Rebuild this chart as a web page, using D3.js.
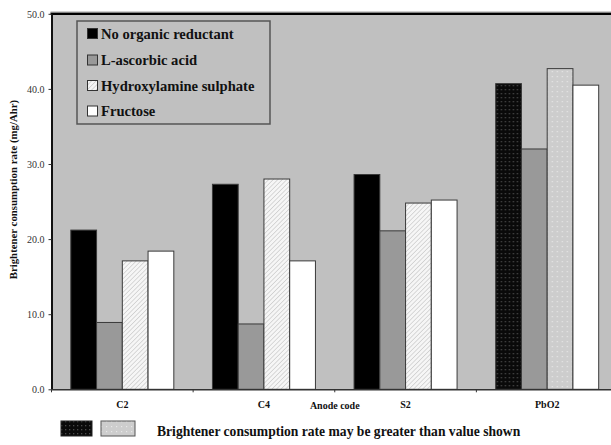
<!DOCTYPE html>
<html><head><meta charset="utf-8">
<script src="https://cdn.jsdelivr.net/npm/d3@7"></script>
<style>
html,body{margin:0;padding:0;background:#fff;}
svg{display:block;}
text{font-family:"Liberation Serif","Times New Roman",serif;}
</style></head>
<body>
<svg id="chart" width="611" height="445"></svg>
<script>
// ---- data ----
const categories = ["C2", "C4", "S2", "PbO2"];
const seriesNames = ["No organic reductant", "L-ascorbic acid", "Hydroxylamine sulphate", "Fructose"];
const noOrganic     = [21.2, 27.3, 28.6, 40.7];
const ascorbic      = [8.9, 8.7, 21.1, 32.0];
const hydroxylamine = [17.1, 28.0, 24.8, 42.7];
const fructose      = [18.4, 17.1, 25.2, 40.5];
// bars whose true value may be greater than shown
const greaterFlags = [
  [false, false, false, false],
  [false, false, false, false],
  [false, false, false, false],
  [true, false, true, false]
];
const yTicks = [0, 10, 20, 30, 40, 50];
const xTitle = "Anode code";
const yTitle = "Brightener consumption rate (mg/Ahr)";
const noteText = "Brightener consumption rate may be greater than value shown";

const seriesValues = [noOrganic, ascorbic, hydroxylamine, fructose];

(function () {
const svg = d3.select("#chart");
const mLeft = 51.5, mRight = 618, mTop = 13.8, mBottom = 389.3;

// patterns
const defs = svg.append("defs");
const hatch = defs.append("pattern").attr("id","hatch").attr("patternUnits","userSpaceOnUse")
  .attr("width",3.2).attr("height",3.2).attr("patternTransform","rotate(45)");
hatch.append("rect").attr("width",3.2).attr("height",3.2).attr("fill","#f6f6f6");
hatch.append("line").attr("x1",0).attr("y1",0).attr("x2",0).attr("y2",3.2)
  .attr("stroke","#c4c4c4").attr("stroke-width",1.2);

const dotBlack = defs.append("pattern").attr("id","dotBlack").attr("patternUnits","userSpaceOnUse")
  .attr("width",4).attr("height",4);
dotBlack.append("rect").attr("width",4).attr("height",4).attr("fill","#0a0a0a");
dotBlack.append("rect").attr("x",1).attr("y",1).attr("width",1.3).attr("height",1.3).attr("fill","#4a4a4a");

const dotGray = defs.append("pattern").attr("id","dotGray").attr("patternUnits","userSpaceOnUse")
  .attr("width",5).attr("height",5);
dotGray.append("rect").attr("width",5).attr("height",5).attr("fill","#cdcdcd");
dotGray.append("rect").attr("x",1).attr("y",1).attr("width",1.2).attr("height",1.2).attr("fill","#e8e8e8");

const fills = ["#000000", "#999999", "url(#hatch)", "#ffffff"];
const flagFills = ["url(#dotBlack)", "#999999", "url(#dotGray)", "#ffffff"];

// scales
const step = (mRight - mLeft) / categories.length;
const pin = 1 - 103 / step;
const x0 = d3.scaleBand().domain(categories).range([mLeft, mRight])
  .paddingInner(pin).paddingOuter(pin / 2);
const x1 = d3.scaleBand().domain(d3.range(seriesNames.length)).range([0, x0.bandwidth()]);
const y = d3.scaleLinear().domain([0, 50]).range([mBottom, mTop]);

// plot background
svg.append("rect").attr("x", mLeft).attr("y", y(50)).attr("width", mRight - mLeft)
  .attr("height", y(0) - y(50)).attr("fill", "#c0c0c0");

// bars
const groups = svg.append("g").selectAll("g").data(categories).join("g")
  .attr("transform", d => `translate(${x0(d)},0)`);
groups.selectAll("rect").data((c, ci) => seriesValues.map((vals, si) => ({ci, si, v: vals[ci]})))
  .join("rect")
  .attr("x", d => x1(d.si))
  .attr("y", d => y(d.v))
  .attr("width", x1.bandwidth())
  .attr("height", d => y(0) - y(d.v))
  .attr("fill", d => greaterFlags[d.ci][d.si] ? flagFills[d.si] : fills[d.si])
  .attr("stroke", "#3a3a3a").attr("stroke-width", 1);

// top border
svg.append("line").attr("x1", mLeft - 1).attr("x2", 611).attr("y1", y(50)).attr("y2", y(50))
  .attr("stroke", "#000").attr("stroke-width", 2.5);
svg.append("line").attr("x1", mLeft - 1).attr("x2", 611).attr("y1", y(50) - 1.8).attr("y2", y(50) - 1.8)
  .attr("stroke", "#888").attr("stroke-width", 0.8);

// y axis
const yAxis = svg.append("g").attr("transform", `translate(${mLeft},0)`)
  .call(d3.axisLeft(y).tickValues(yTicks).tickFormat(d3.format(".1f")).tickSize(3).tickSizeOuter(0));
yAxis.select(".domain").attr("stroke", "#111").attr("stroke-width", 2);
yAxis.selectAll(".tick line").attr("stroke", "#333");
yAxis.selectAll(".tick text").attr("font-size", 10).attr("fill", "#333")
  .attr("font-family", "Liberation Serif").attr("dx", -1);

// x axis
const xAxis = svg.append("g").attr("transform", `translate(0,${mBottom})`)
  .call(d3.axisBottom(x0).tickSize(0).tickPadding(12));
xAxis.select(".domain").attr("stroke", "#333").attr("stroke-width", 1.5);
xAxis.selectAll(".tick text").attr("font-size", 10).attr("font-weight", "bold")
  .attr("fill", "#111").attr("font-family", "Liberation Serif");
// boundary ticks
const bounds = d3.range(categories.length + 1).map(i => x0(categories[0]) - x0.step() * x0.paddingOuter() + i * x0.step());
svg.append("g").selectAll("line").data(bounds).join("line")
  .attr("x1", d => d).attr("x2", d => d).attr("y1", mBottom).attr("y2", mBottom + 3)
  .attr("stroke", "#333").attr("stroke-width", 1);

// x title
svg.append("text").attr("x", (mLeft + mRight) / 2).attr("y", 408.5).attr("text-anchor", "middle")
  .attr("font-size", 10).attr("font-weight", "bold").attr("fill", "#111").text(xTitle);

// y title
svg.append("text").attr("transform", `translate(17,${(mTop + mBottom) / 2 - 12}) rotate(-90)`)
  .attr("text-anchor", "middle").attr("font-size", 10.8).attr("font-weight", "bold")
  .attr("fill", "#111").text(yTitle);

// legend
const lg = svg.append("g");
lg.append("rect").attr("x", 77).attr("y", 21).attr("width", 193).attr("height", 103)
  .attr("fill", "#c0c0c0").attr("stroke", "#555").attr("stroke-width", 1.5);
const rowsY = [33.5, 60, 85.5, 111];
seriesNames.forEach((name, i) => {
  lg.append("rect").attr("x", 87.5).attr("y", rowsY[i] - 5).attr("width", 10).attr("height", 10)
    .attr("fill", fills[i]).attr("stroke", "#333").attr("stroke-width", 1);
  lg.append("text").attr("x", 101).attr("y", rowsY[i] + 5).attr("font-size", 14.6)
    .attr("font-weight", "bold").attr("fill", "#111").text(name);
});

// note legend
svg.append("rect").attr("x", 61).attr("y", 421).attr("width", 31).attr("height", 15)
  .attr("fill", "url(#dotBlack)").attr("stroke", "#222");
svg.append("rect").attr("x", 101).attr("y", 421).attr("width", 34).attr("height", 15)
  .attr("fill", "url(#dotGray)").attr("stroke", "#555");
svg.append("text").attr("x", 157).attr("y", 436).attr("font-size", 13.6).attr("font-weight", "bold")
  .attr("fill", "#111").text(noteText);
})();
</script>
</body></html>
